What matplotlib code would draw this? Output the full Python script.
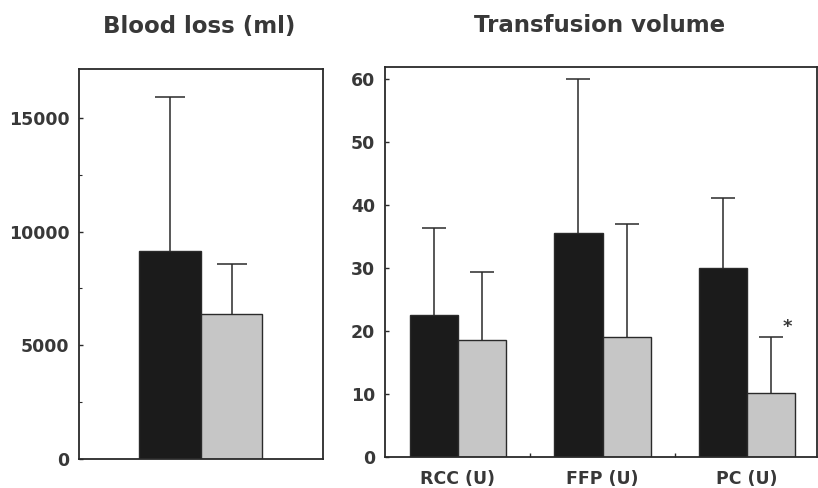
import matplotlib
matplotlib.use("Agg")
import matplotlib.pyplot as plt
import numpy as np

plt.rcParams['font.family'] = ['DejaVu Sans']

# Blood loss (ml)
loss_means = [9150, 6370]
loss_sd = [6770, 2220]

# Transfusion volume
categories = ["RCC (U)", "FFP (U)", "PC (U)"]
group1_means = [22.6, 35.5, 30.0]
group1_sd = [13.8, 24.5, 11.1]
group2_means = [18.6, 19.1, 10.1]
group2_sd = [10.7, 17.9, 8.9]
signif = ["", "", "*"]

dark = "#1b1b1b"
light = "#c6c6c6"
edge = "#2a2a2a"
txt = "#383838"

fig = plt.figure(figsize=(8.18, 4.88), dpi=100)

def style(ax):
    for s in ax.spines.values():
        s.set_linewidth(1.3)
        s.set_color(edge)
    ax.tick_params(axis='y', direction='in', length=3, width=1, colors=edge,
                   labelcolor=txt, labelsize=12.5, pad=7)
    for lab in ax.get_yticklabels():
        lab.set_fontweight('bold')

def upper_err(ax, x, y, err, cap):
    _, caps, _ = ax.errorbar(x, y, yerr=[np.zeros(len(err)), err], fmt='none',
                             ecolor=edge, elinewidth=1.1, capsize=cap, capthick=1.1)
    caps[0].set_visible(False)

# Left panel
ax1 = fig.add_axes([79/818, 29/488, 244/818, 390/488])
x1 = np.arange(len(loss_means))
ax1.bar(x1, loss_means, width=1.0, color=[dark, light], edgecolor=edge, linewidth=1)
upper_err(ax1, x1, loss_means, loss_sd, 10.5)
ax1.set_xlim(-1.47, 2.48)
ax1.set_ylim(0, 17150)
ax1.set_yticks([0, 5000, 10000, 15000])
ax1.set_yticks(np.arange(2500, 17150, 5000), minor=True)
ax1.tick_params(axis='y', which='minor', direction='in', length=2, width=0.8, colors=edge)
ax1.set_xticks([])
style(ax1)

# Right panel
ax2 = fig.add_axes([385/818, 31/488, 432/818, 390/488])
x2 = np.arange(len(categories))
w = 0.335
ax2.bar(x2 - w/2, group1_means, width=w, color=dark, edgecolor=edge, linewidth=1)
ax2.bar(x2 + w/2, group2_means, width=w, color=light, edgecolor=edge, linewidth=1)
upper_err(ax2, x2 - w/2, group1_means, group1_sd, 8.6)
upper_err(ax2, x2 + w/2, group2_means, group2_sd, 8.6)
for i, s in enumerate(signif):
    if s:
        ax2.text(x2[i] + w/2 + 0.11, group2_means[i] + group2_sd[i] + 1.6, s,
                 ha='center', va='center', fontsize=13, fontweight='bold', color=txt)
ax2.set_xlim(-0.505, 2.484)
ax2.set_ylim(0, 61.9)
ax2.set_yticks(np.arange(0, 61, 10))
ax2.set_xticks(x2)
ax2.set_xticklabels(categories, fontsize=12.5, fontweight='bold', color=txt)
ax2.set_xticks([0.5, 1.5], minor=True)
ax2.tick_params(axis='x', which='major', length=0, pad=9)
ax2.tick_params(axis='x', which='minor', direction='in', length=3, width=1, colors=edge)
style(ax2)

fig.text(199/818, 1 - 26/488, "Blood loss (ml)", ha='center', va='center',
         fontsize=16.5, fontweight='bold', color=txt)
fig.text(600/818, 1 - 26/488, "Transfusion volume", ha='center', va='center',
         fontsize=16.5, fontweight='bold', color=txt)

fig.savefig("out.png", dpi=100)
